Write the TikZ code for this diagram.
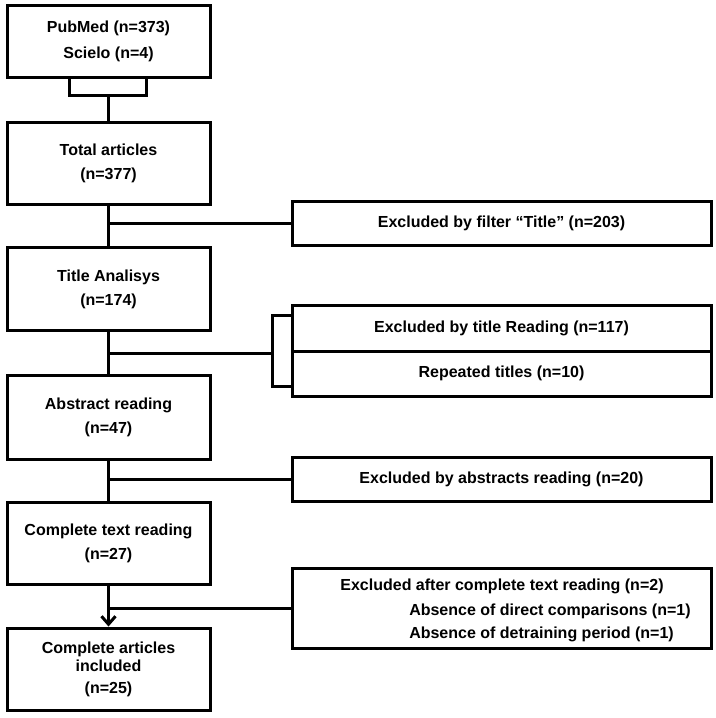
\documentclass[tikz,border=0pt]{standalone}
\usepackage{fontspec}
\setmainfont{Liberation Sans}
\usetikzlibrary{arrows.meta}

\tikzset{
  box/.style={draw, line width=2.25pt, minimum width=152.25pt, minimum height=62pt, align=center, inner sep=0pt},
  exbox/.style={box, minimum width=314.25pt, minimum height=33pt},
  line/.style={line width=2.25pt},
}

\begin{document}
\begin{tikzpicture}[x=0.75pt, y=-0.75pt, font=\fontsize{12}{18}\selectfont\bfseries]
  \useasboundingbox (0,0) rectangle (716,718);
  % main column
  \node[box, minimum height=54pt] (src) at (108.5,41) {PubMed (n=373)\\[1.5pt]Scielo (n=4)};
  \node[box] (total) at (108.5,163.5) {Total articles\\(n=377)};
  \node[box] (title) at (108.5,289) {Title Analisys\\(n=174)};
  \node[box, minimum height=63pt] (abstract) at (108.5,417) {Abstract reading\\(n=47)};
  \node[box] (fulltext) at (108.5,543.5) {Complete text reading\\(n=27)};
  \node[box, minimum height=61.5pt] (included) at (108.5,669) {Complete articles\\[-4.2pt]included\\[-1.7pt](n=25)};
  % exclusions
  \node[exbox] (exfilter) at (501.5,223) {Excluded by filter “Title” (n=203)};
  \node[exbox, minimum height=34.5pt] (extitle) at (501.5,328) {Excluded by title Reading (n=117)};
  \node[exbox, minimum height=33.75pt] (exrepeat) at (501.5,373.5) {Repeated titles (n=10)};
  \node[exbox] (exabs) at (501.5,479) {Excluded by abstracts reading (n=20)};
  \node[exbox, minimum height=60pt] (exfull) at (501.5,608) {};
  \node[anchor=base] (exfull-a) at (502,590) {Excluded after complete text reading (n=2)};
  \node[anchor=base west, inner sep=0pt] (exfull-b) at (409,615) {Absence of direct comparisons (n=1)};
  \node[anchor=base west, inner sep=0pt] (exfull-c) at (409,638) {Absence of detraining period (n=1)};
  \coordinate (jn) at (108.5,95);
  \coordinate (brk) at (272,353);
  % connectors
  \draw[line] ([xshift=-29.25pt]src.south) |- ([xshift=28.5pt]src.south |- jn) -- ([xshift=28.5pt]src.south);
  \path[line]
  (jn) edge (total)
  (total) edge (title)
  (title) edge (abstract)
  (abstract) edge (fulltext)
  (fulltext) edge[-{Straight Barb[length=6pt,width=10.5pt,line width=2.25pt]}] (included)
  (total.south |- exfilter.west) edge (exfilter.west)
  (title.south |- brk) edge (brk)
  (abstract.south |- exabs.west) edge (exabs.west)
  (fulltext.south |- exfull.west) edge (exfull.west);
  \draw[line] ([yshift=9.75pt]extitle.west) -| (brk) |- ([yshift=-9.4pt]exrepeat.west);
\end{tikzpicture}
\end{document}
